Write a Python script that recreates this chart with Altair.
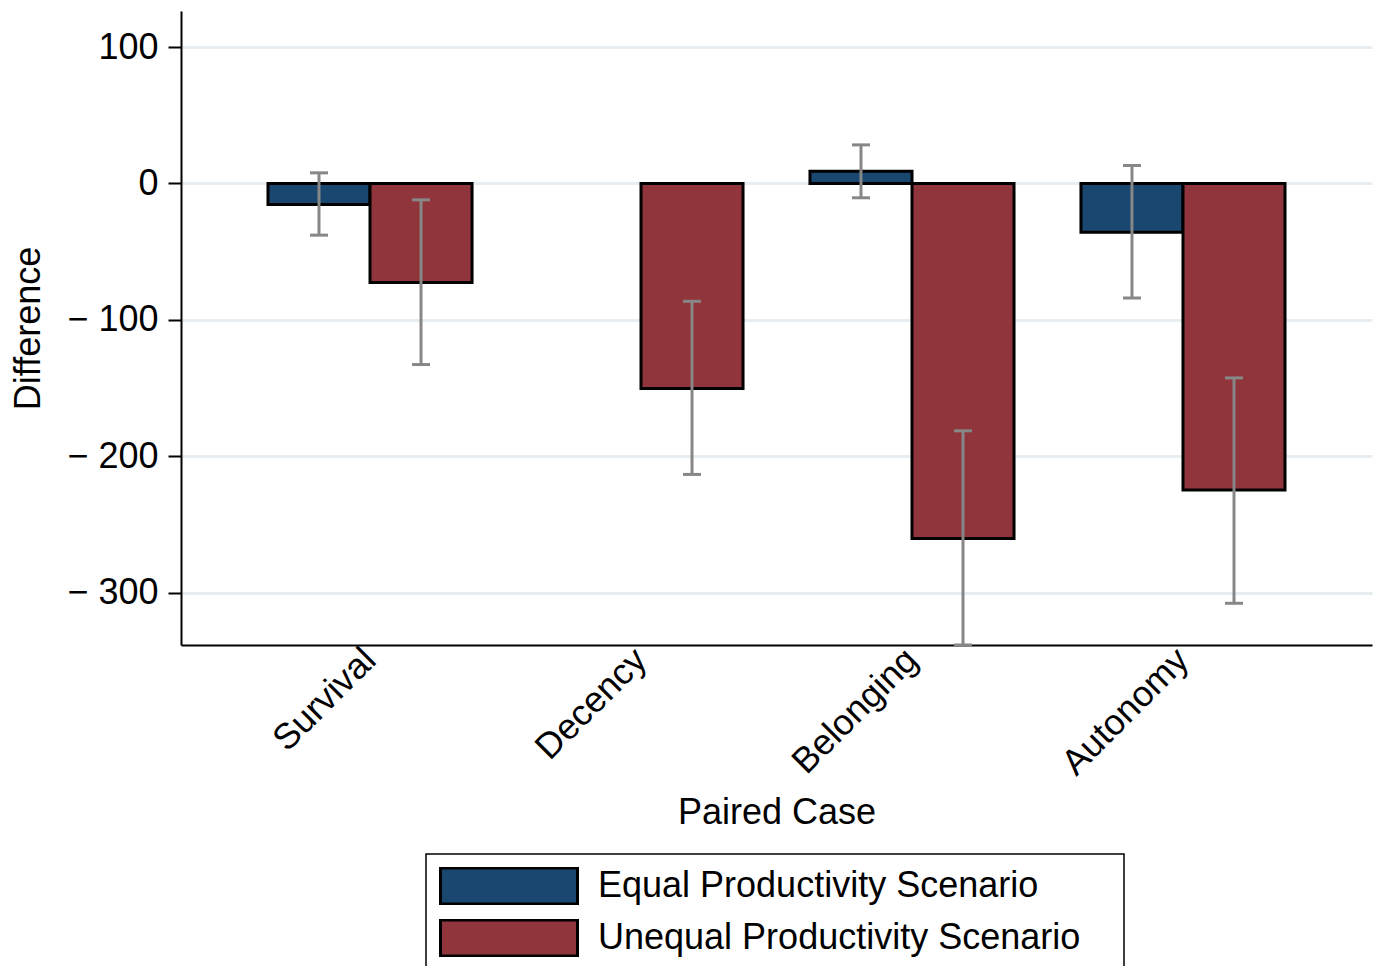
import altair as alt
import pandas as pd

# Paired cases and the two productivity scenarios
cases = ["Survival", "Decency", "Belonging", "Autonomy"]
scenarios = ["Equal Productivity Scenario", "Unequal Productivity Scenario"]

# Mean differences with lower / upper confidence bounds (None = not estimated)
equal_diff = [-15.4, None, 9.0, -35.7]
equal_lo = [-37.9, None, -10.5, -84.0]
equal_hi = [7.8, None, 28.3, 13.2]

unequal_diff = [-72.7, -150.4, -260.3, -224.9]
unequal_lo = [-132.8, -213.4, -338.5, -307.9]
unequal_hi = [-12.0, -86.4, -181.4, -142.6]

y_ticks = [100, 0, -100, -200, -300]
colors = ["#1a476f", "#90353b"]

rows = []
for scen, d, lo, hi in [
    (scenarios[0], equal_diff, equal_lo, equal_hi),
    (scenarios[1], unequal_diff, unequal_lo, unequal_hi),
]:
    for c, dv, lv, hv in zip(cases, d, lo, hi):
        if dv is None:
            continue
        rows.append({"case": c, "scenario": scen, "diff": dv, "lo": lv, "hi": hv})
df = pd.DataFrame(rows)

FONT = "Liberation Sans"

x_enc = alt.X(
    "case:N",
    sort=cases,
    scale=alt.Scale(paddingInner=0.247, paddingOuter=0.321),
    axis=alt.Axis(
        title="Paired Case",
        labelAngle=-45,
        labelAlign="right",
        labelBaseline="middle",
        labelPadding=9,
        ticks=False,
        grid=False,
        titlePadding=14,
    ),
)
xoff_enc = alt.XOffset(
    "scenario:N",
    sort=scenarios,
    scale=alt.Scale(domain=scenarios, paddingInner=0, paddingOuter=0),
)
y_scale = alt.Scale(domain=[-338.5, 126.5], nice=False, zero=False)

bars = alt.Chart(df).mark_bar(stroke="black", strokeWidth=3).encode(
    x=x_enc,
    xOffset=xoff_enc,
    y=alt.Y(
        "diff:Q",
        scale=y_scale,
        axis=alt.Axis(
            title="Difference",
            values=y_ticks,
            labelExpr="datum.value < 0 ? '\u2212 ' + format(-datum.value, 'd') : format(datum.value, 'd')",
            tickSize=13,
            labelPadding=10,
            titlePadding=19,
            grid=True,
        ),
    ),
    y2=alt.datum(0),
    fill=alt.Fill(
        "scenario:N",
        sort=scenarios,
        scale=alt.Scale(domain=scenarios, range=colors),
        # trailing spaces (kept by a zero-width end mark) widen the legend frame
        legend=alt.Legend(title=None, labelExpr="datum.label + '   \u200b'"),
    ),
)

err_color = "#878787"

whisker = alt.Chart(df).mark_rule(color=err_color, strokeWidth=3).encode(
    x=alt.X("case:N", sort=cases),
    xOffset=xoff_enc,
    y=alt.Y("lo:Q", scale=y_scale),
    y2="hi:Q",
)

cap_shape = "M-1,0H1"
cap_lo = alt.Chart(df).mark_point(
    shape=cap_shape, size=324, filled=False, color=err_color, strokeWidth=3, opacity=1
).encode(
    x=alt.X("case:N", sort=cases),
    xOffset=xoff_enc,
    y=alt.Y("lo:Q", scale=y_scale),
)
cap_hi = alt.Chart(df).mark_point(
    shape=cap_shape, size=324, filled=False, color=err_color, strokeWidth=3, opacity=1
).encode(
    x=alt.X("case:N", sort=cases),
    xOffset=xoff_enc,
    y=alt.Y("hi:Q", scale=y_scale),
)

chart = (
    alt.layer(bars, whisker, cap_lo, cap_hi)
    .properties(
        width=1191,
        height=634,
        autosize=alt.AutoSizeParams(type="none"),
        padding={"left": 181, "top": 11, "right": 5, "bottom": 321},
        background="white",
    )
    .configure_view(stroke=None)
    .configure_axis(
        labelFont=FONT,
        titleFont=FONT,
        labelFontSize=36,
        titleFontSize=36,
        labelColor="black",
        titleColor="black",
        titleFontWeight="normal",
        domainColor="black",
        domainWidth=2,
        tickColor="black",
        tickWidth=2,
        gridColor="#e6eef1",
        gridWidth=3,
    )
    .configure_legend(
        orient="none",
        legendX=245,
        legendY=843,
        direction="vertical",
        fillColor="white",
        strokeColor="black",
        strokeWidth=1.5,
        padding=13,
        cornerRadius=0,
        symbolType="M-1,-0.263H1V0.263H-1Z",
        symbolSize=18769,
        symbolStrokeColor="black",
        symbolStrokeWidth=3,
        symbolOpacity=1,
        clipHeight=38,
        rowPadding=14,
        labelFont=FONT,
        labelFontSize=36,
        labelColor="black",
        labelOffset=19,
        labelLimit=900,
    )
)

chart.save("out.html", embed_options={"renderer": "svg", "actions": False})
